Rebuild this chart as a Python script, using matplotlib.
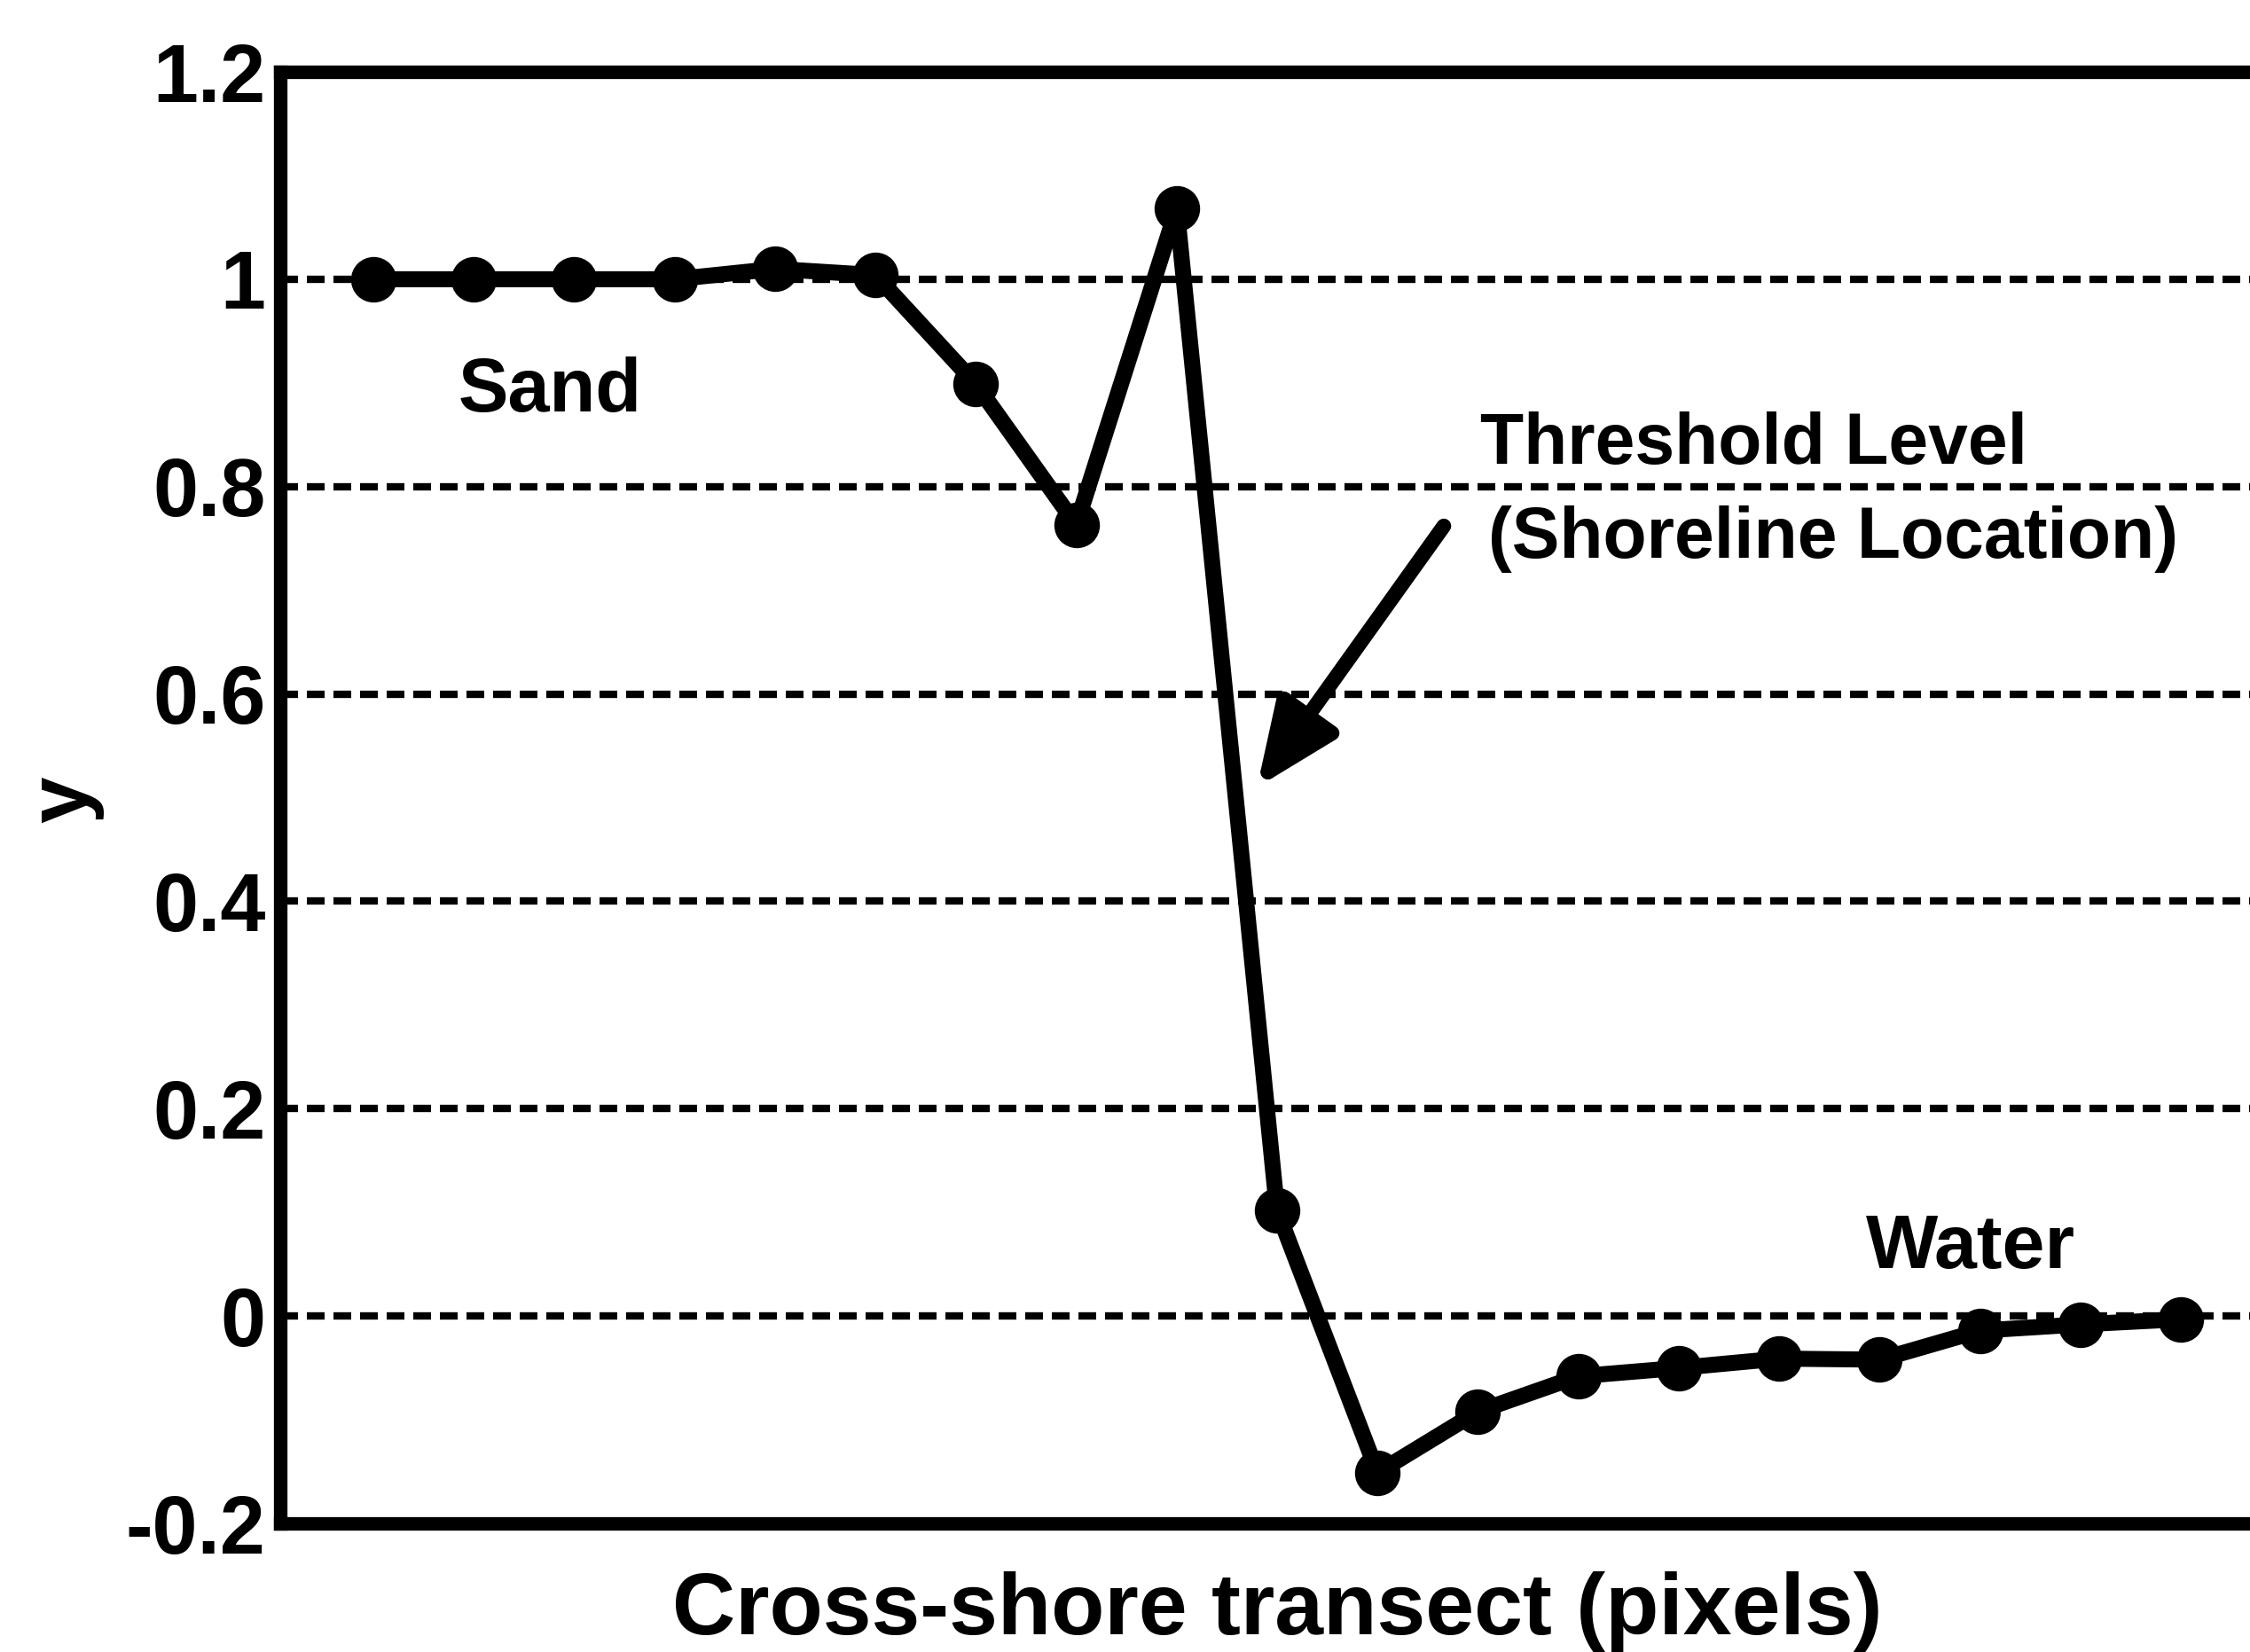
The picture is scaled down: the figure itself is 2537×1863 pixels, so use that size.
import numpy as np
import matplotlib
matplotlib.use('Agg')
import matplotlib.pyplot as plt

# transect profile
x_pix = [1, 2, 3, 4, 5, 6, 7, 8, 9, 10, 11, 12, 13, 14, 15, 16, 17, 18, 19]
y_val = [1.0, 1.0, 1.0, 1.0, 1.010, 1.004, 0.899, 0.763, 1.068, 0.102,
         -0.151, -0.092, -0.058, -0.050, -0.041, -0.042, -0.014, -0.008, -0.003]

yticks = [-0.2, 0, 0.2, 0.4, 0.6, 0.8, 1.0, 1.2]
ytick_labels = ['-0.2', '0', '0.2', '0.4', '0.6', '0.8', '1', '1.2']

plt.rcParams['font.family'] = ['Liberation Sans', 'DejaVu Sans']
plt.rcParams['font.weight'] = 'bold'

fig = plt.figure(figsize=(25.37, 18.63), dpi=100)
ax = fig.add_axes([0.1246, 0.0778, 0.886, 0.8787])

ax.plot(x_pix, y_val, color='k', lw=13, marker='o', ms=36, zorder=3)

ax.set_xlim(0.075, 19.925)
ax.set_ylim(-0.2, 1.2)
ax.set_xticks([])
ax.set_yticks(yticks)
ax.set_yticklabels(ytick_labels, fontsize=66, fontweight='bold')
ax.tick_params(axis='y', direction='in', length=14, width=3, pad=12)

ax.set_axisbelow(True)
ax.grid(True, axis='y', color='k', lw=6, linestyle=(0, (2.4, 1.2)))
for s in ax.spines.values():
    s.set_linewidth(11)

ax.text(1.85, 0.8725, 'Sand', fontsize=61, fontweight='bold',
        ha='left', va='baseline')
ax.text(12.02, 0.822, 'Threshold Level', fontsize=58, fontweight='bold',
        ha='left', va='baseline')
ax.text(12.10, 0.731, '(Shoreline Location)', fontsize=58, fontweight='bold',
        ha='left', va='baseline')
ax.text(15.86, 0.046, 'Water', fontsize=62, fontweight='bold',
        ha='left', va='baseline')

ax.annotate('', xy=(9.80, 0.51), xytext=(11.66, 0.762),
            arrowprops=dict(arrowstyle='-|>,head_length=56,head_width=24',
                            mutation_scale=1, lw=12, color='k',
                            shrinkA=0, shrinkB=0))

fig.text(0.5677, 0.0107, 'Cross-shore transect (pixels)', fontsize=71,
         fontweight='bold', ha='center', va='baseline')
fig.text(0.0287, 0.516, 'y', fontsize=68, fontweight='bold', rotation=90,
         ha='center', va='center')

fig.savefig('out.png', dpi=100)
